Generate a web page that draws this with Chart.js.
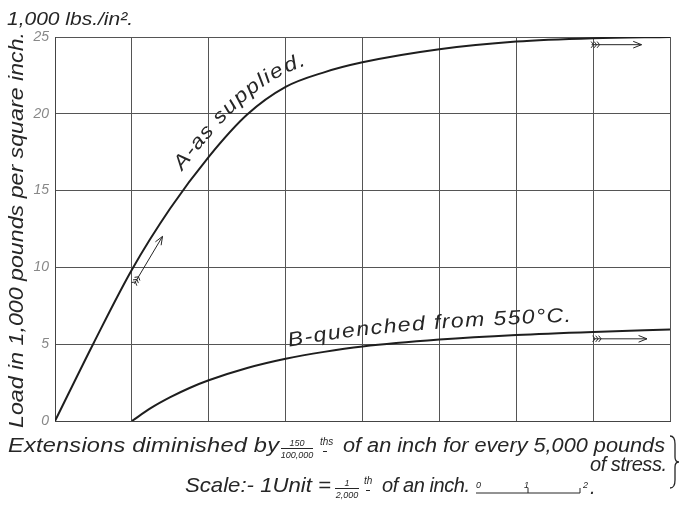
<!DOCTYPE html>
<html>
<head>
<meta charset="utf-8">
<script src="https://cdn.jsdelivr.net/npm/chart.js@4.4.1/dist/chart.umd.min.js"></script>
<style>
  html, body { margin: 0; padding: 0; background: #fff; }
  canvas { display: block; }
</style>
</head>
<body>
<canvas id="chart" width="699" height="510"></canvas>
<script>
// VALUES (x in scale units, load in 1,000 lbs/in2)
const xA = [0, 0.5, 1, 1.5, 2, 2.5, 3, 3.5, 4, 5, 6, 7, 8];
const loadA = [0, 5.05, 9.85, 13.85, 17.2, 19.95, 21.75, 22.7, 23.35, 24.2, 24.7, 24.92, 25];
const xB = [1, 1.25, 1.5, 1.75, 2, 2.5, 3, 3.5, 4, 5, 6, 7, 8];
const loadB = [0, 0.85, 1.55, 2.15, 2.65, 3.45, 4.05, 4.5, 4.85, 5.3, 5.6, 5.8, 5.95];
const yTicks = [0, 5, 10, 15, 20, 25];

const labelA = "A-as supplied.";
const labelB = "B-quenched from 550°C.";
const yTitle = "Load in 1,000 pounds per square inch.";
const unitLabel = "1,000 lbs./in².";

// label / arrow anchors in data units
const labelASpan = [1.78, 3.32];
const labelBSpan = [3.07, 6.72];
const arrowASpan = [0.93, 1.3];
const arrowTop = [6.98, 7.63, 24.5];
const arrowB = [7.0, 7.7, 5.35];

const FONT = '"Liberation Sans", "DejaVu Sans", sans-serif';
const INK = '#262626';
function italic(size) { return `italic ${size}px ${FONT}`; }

// DRAW TEXT STRETCHED AND SPREAD TO A GIVEN WIDTH (the plate lettering is wide)
function spacedText(ctx, text, x, y, width, maxStretch = 1.18) {
    const chars = [...text];
    const widths = chars.map(c => ctx.measureText(c).width);
    const natural = widths.reduce((a, b) => a + b, 0);
    const k = Math.min(Math.max(width / natural, 1), maxStretch);
    const gap = chars.length > 1 ? (width - natural * k) / (chars.length - 1) : 0;
    let cx = x;
    chars.forEach((c, i) => {
        ctx.save();
        ctx.translate(cx, y);
        ctx.scale(k, 1);
        ctx.fillText(c, 0, 0);
        ctx.restore();
        cx += widths[i] * k + gap;
    });
}

// SAMPLE THE BEZIER CURVE THAT CHART.JS DREW FOR A DATASET
function curvePath(meta) {
    const pts = meta.data;
    const out = [];
    for (let i = 0; i < pts.length - 1; i++) {
        const a = pts[i], b = pts[i + 1];
        const c1x = a.cp2x ?? a.x, c1y = a.cp2y ?? a.y;
        const c2x = b.cp1x ?? b.x, c2y = b.cp1y ?? b.y;
        for (let k = 0; k < 40; k++) {
            const t = k / 40, u = 1 - t;
            out.push({
                x: u * u * u * a.x + 3 * u * u * t * c1x + 3 * u * t * t * c2x + t * t * t * b.x,
                y: u * u * u * a.y + 3 * u * u * t * c1y + 3 * u * t * t * c2y + t * t * t * b.y
            });
        }
    }
    const last = pts[pts.length - 1];
    out.push({ x: last.x, y: last.y });
    let s = 0;
    out.forEach((p, i) => {
        if (i > 0) s += Math.hypot(p.x - out[i - 1].x, p.y - out[i - 1].y);
        p.s = s;
    });
    return out;
}

function arcAtX(path, px) {
    for (let i = 1; i < path.length; i++) {
        if (path[i].x >= px) {
            const a = path[i - 1], b = path[i];
            const t = (px - a.x) / ((b.x - a.x) || 1);
            return a.s + t * (b.s - a.s);
        }
    }
    return path[path.length - 1].s;
}

function pointAt(path, s) {
    for (let i = 1; i < path.length; i++) {
        if (path[i].s >= s) {
            const a = path[i - 1], b = path[i];
            const t = (s - a.s) / ((b.s - a.s) || 1);
            return { x: a.x + t * (b.x - a.x), y: a.y + t * (b.y - a.y), a: Math.atan2(b.y - a.y, b.x - a.x) };
        }
    }
    const a = path[path.length - 2], b = path[path.length - 1];
    return { x: b.x, y: b.y, a: Math.atan2(b.y - a.y, b.x - a.x) };
}

// offset > 0 is above/left of the curve
function offsetPoint(path, px, offset) {
    const p = pointAt(path, arcAtX(path, px));
    return { x: p.x + Math.sin(p.a) * offset, y: p.y - Math.cos(p.a) * offset };
}

function textAlong(ctx, path, text, px0, px1, offset, maxStretch = 1.15) {
    const s0 = arcAtX(path, px0), s1 = arcAtX(path, px1);
    const chars = [...text];
    const widths = chars.map(c => ctx.measureText(c).width);
    const natural = widths.reduce((a, b) => a + b, 0);
    const k = Math.min(Math.max((s1 - s0) / natural, 1), maxStretch);
    const gap = (s1 - s0 - natural * k) / (chars.length - 1);
    let s = s0;
    ctx.textAlign = 'center';
    chars.forEach((c, i) => {
        const p = pointAt(path, s + widths[i] * k / 2);
        ctx.save();
        ctx.translate(p.x + Math.sin(p.a) * offset, p.y - Math.cos(p.a) * offset);
        ctx.rotate(p.a);
        ctx.scale(k, 1);
        ctx.fillText(c, 0, 0);
        ctx.restore();
        s += widths[i] * k + gap;
    });
    ctx.textAlign = 'left';
}

// FEATHERED ARROW LIKE THE ONES ON THE PLATE
function arrow(ctx, x0, y0, x1, y1) {
    const a = Math.atan2(y1 - y0, x1 - x0);
    const ca = Math.cos(a), sa = Math.sin(a);
    ctx.beginPath();
    ctx.moveTo(x0, y0);
    ctx.lineTo(x1, y1);
    const h = 9, w = 0.38;
    ctx.moveTo(x1 - h * Math.cos(a - w), y1 - h * Math.sin(a - w));
    ctx.lineTo(x1, y1);
    ctx.lineTo(x1 - h * Math.cos(a + w), y1 - h * Math.sin(a + w));
    for (let k = 0; k < 3; k++) {
        const bx = x0 + (2 + k * 3) * ca, by = y0 + (2 + k * 3) * sa;
        ctx.moveTo(bx - 4 * Math.cos(a - 0.9), by - 4 * Math.sin(a - 0.9));
        ctx.lineTo(bx, by);
        ctx.lineTo(bx - 4 * Math.cos(a + 0.9), by - 4 * Math.sin(a + 0.9));
    }
    ctx.stroke();
}

function fraction(ctx, num, den, cx, y, half) {
    ctx.font = italic(9);
    ctx.textAlign = 'center';
    ctx.fillText(num, cx, y - 4);
    ctx.fillText(den, cx, y + 8);
    ctx.textAlign = 'left';
    ctx.beginPath();
    ctx.moveTo(cx - half, y - 1.5);
    ctx.lineTo(cx + half, y - 1.5);
    ctx.stroke();
}

const platePlugin = {
    id: 'plate',
    afterDraw(chart) {
        const ctx = chart.ctx;
        const xs = chart.scales.x, ys = chart.scales.y;
        const pathA = curvePath(chart.getDatasetMeta(0));
        const pathB = curvePath(chart.getDatasetMeta(1));
        ctx.save();
        ctx.fillStyle = INK;
        ctx.strokeStyle = INK;
        ctx.lineWidth = 1;
        ctx.textBaseline = 'alphabetic';

        // CURVE LABELS
        ctx.font = italic(20);
        textAlong(ctx, pathA, labelA, xs.getPixelForValue(labelASpan[0]), xs.getPixelForValue(labelASpan[1]), 12);
        textAlong(ctx, pathB, labelB, xs.getPixelForValue(labelBSpan[0]), xs.getPixelForValue(labelBSpan[1]), 11);

        // ARROWS
        const t0 = offsetPoint(pathA, xs.getPixelForValue(arrowASpan[0]), -9);
        const t1 = offsetPoint(pathA, xs.getPixelForValue(arrowASpan[1]), -9);
        arrow(ctx, t0.x, t0.y, t1.x, t1.y);
        arrow(ctx, xs.getPixelForValue(arrowTop[0]), ys.getPixelForValue(arrowTop[2]),
              xs.getPixelForValue(arrowTop[1]), ys.getPixelForValue(arrowTop[2]));
        arrow(ctx, xs.getPixelForValue(arrowB[0]), ys.getPixelForValue(arrowB[2]),
              xs.getPixelForValue(arrowB[1]), ys.getPixelForValue(arrowB[2]));

        // UNIT AND AXIS TITLE
        ctx.font = italic(19);
        spacedText(ctx, unitLabel, 7, 25, 126);
        ctx.save();
        ctx.translate(23, 428);
        ctx.rotate(-Math.PI / 2);
        ctx.font = italic(21);
        spacedText(ctx, yTitle, 0, 0, 396);
        ctx.restore();

        // CAPTION
        ctx.font = italic(20);
        spacedText(ctx, "Extensions diminished by", 8, 452, 271);
        fraction(ctx, "150", "100,000", 297, 450, 16);
        ctx.font = italic(10);
        ctx.fillText("ths", 320, 445);
        ctx.fillRect(323, 451, 4, 1);
        ctx.font = italic(20);
        spacedText(ctx, "of an inch for every 5,000 pounds", 343, 452, 322);
        spacedText(ctx, "of stress.", 590, 471, 77);

        // brace
        ctx.lineWidth = 1.3;
        ctx.beginPath();
        const bx = 670, top = 436, bot = 488, mid = 462;
        ctx.moveTo(bx, top);
        ctx.quadraticCurveTo(bx + 5, top, bx + 5, top + 8);
        ctx.lineTo(bx + 5, mid - 5);
        ctx.quadraticCurveTo(bx + 5, mid, bx + 9, mid);
        ctx.quadraticCurveTo(bx + 5, mid, bx + 5, mid + 5);
        ctx.lineTo(bx + 5, bot - 8);
        ctx.quadraticCurveTo(bx + 5, bot, bx, bot);
        ctx.stroke();
        ctx.lineWidth = 1;

        ctx.font = italic(21);
        spacedText(ctx, "Scale:- 1Unit =", 185, 492, 146);
        fraction(ctx, "1", "2,000", 347, 490, 12);
        ctx.font = italic(10);
        ctx.fillText("th", 364, 484);
        ctx.fillRect(366, 490, 4, 1);
        ctx.font = italic(20);
        spacedText(ctx, "of an inch.", 382, 492, 88);

        // little scale bar
        ctx.font = italic(9);
        ctx.fillText("0", 476, 488);
        ctx.fillText("1", 524, 488);
        ctx.fillText("2", 583, 488);
        ctx.font = italic(20);
        ctx.fillText(".", 590, 494);
        ctx.beginPath();
        ctx.moveTo(476, 493);
        ctx.lineTo(580, 493);
        ctx.moveTo(528, 493);
        ctx.lineTo(528, 488);
        ctx.moveTo(580, 493);
        ctx.lineTo(580, 488);
        ctx.stroke();
        ctx.restore();
    }
};

const gridStyle = { color: '#555', lineWidth: 1, drawTicks: false };

new Chart(document.getElementById('chart'), {
    type: 'line',
    data: {
        datasets: [
            {
                label: labelA,
                data: xA.map((x, i) => ({ x, y: loadA[i] })),
                borderColor: '#1e1e1e',
                borderWidth: 2,
                pointRadius: 0,
                fill: false,
                cubicInterpolationMode: 'monotone'
            },
            {
                label: labelB,
                data: xB.map((x, i) => ({ x, y: loadB[i] })),
                borderColor: '#1e1e1e',
                borderWidth: 2,
                pointRadius: 0,
                fill: false,
                cubicInterpolationMode: 'monotone'
            }
        ]
    },
    options: {
        responsive: false,
        animation: false,
        devicePixelRatio: 1,
        layout: { padding: { top: 37, right: 29, left: 0, bottom: 0 } },
        plugins: { legend: { display: false }, tooltip: { enabled: false } },
        scales: {
            x: {
                type: 'linear',
                min: 0,
                max: 8,
                ticks: { display: false, stepSize: 1 },
                grid: gridStyle,
                border: { color: '#444', width: 1 },
                afterFit: scale => { scale.height = 89; }
            },
            y: {
                min: 0,
                max: 25,
                afterBuildTicks: scale => { scale.ticks = yTicks.map(v => ({ value: v })); },
                ticks: {
                    font: { family: FONT, style: 'italic', size: 14 },
                    color: '#888',
                    padding: 6
                },
                grid: gridStyle,
                border: { color: '#444', width: 1 },
                afterFit: scale => { scale.width = 55; }
            }
        }
    },
    plugins: [platePlugin]
});
</script>
</body>
</html>
